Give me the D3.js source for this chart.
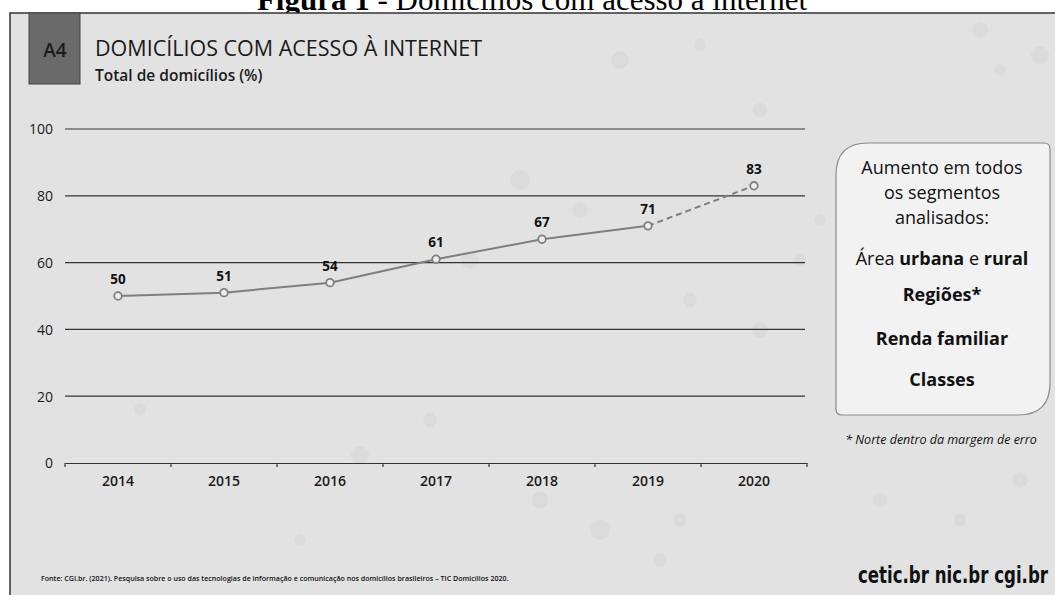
<!DOCTYPE html>
<html lang="pt">
<head>
  <meta charset="utf-8" />
  <title>Domicílios com acesso à internet</title>
  <script src="https://d3js.org/d3.v7.min.js"></script>
  <style>
    body { margin: 0; background: #fff; }
    svg { display: block; font-family: "Open Sans", "Noto Sans", sans-serif; }
  </style>
</head>
<body>
<script>
  // data
  var years = ["2014", "2015", "2016", "2017", "2018", "2019", "2020"];
  var values = [50, 51, 54, 61, 67, 71, 83];
  var yTicks = [0, 20, 40, 60, 80, 100];
  var boxLines = [
    [{t: "Aumento em todos", b: false}],
    [{t: "os segmentos", b: false}],
    [{t: "analisados:", b: false}],
    [{t: "Área ", b: false}, {t: "urbana", b: true}, {t: " e ", b: false}, {t: "rural", b: true}],
    [{t: "Regiões*", b: true}],
    [{t: "Renda familiar", b: true}],
    [{t: "Classes", b: true}]
  ];

  var width = 1055, height = 595;
  var svg = d3.select("body").append("svg")
    .attr("width", width)
    .attr("height", height);

  // figure caption, cut at the top like in the scan
  svg.append("text")
    .attr("x", 532).attr("y", 10)
    .attr("text-anchor", "middle")
    .style("font-family", "'Liberation Serif', serif")
    .style("font-size", "31px")
    .html("<tspan font-weight='bold'>Figura 1</tspan> - Domicílios com acesso à internet");

  // slide
  svg.append("rect")
    .attr("x", 10).attr("y", 13)
    .attr("width", width - 9).attr("height", height - 12)
    .attr("fill", "#e2e2e2")
    .attr("stroke", "#333").attr("stroke-width", 1.5);

  // faint dots in the background
  var dots = [[620, 60, 9], [700, 45, 6], [760, 110, 7], [980, 30, 8], [1000, 70, 6], [1040, 55, 9],
    [520, 180, 10], [580, 210, 8], [470, 260, 9], [690, 300, 7], [760, 330, 8], [800, 260, 6],
    [430, 420, 7], [360, 455, 9], [540, 500, 8], [600, 530, 10], [680, 520, 7], [300, 540, 6],
    [140, 410, 6], [880, 500, 7], [960, 520, 6], [1020, 480, 8], [820, 220, 6], [660, 560, 7]];
  svg.append("g").selectAll("circle")
    .data(dots)
    .join("circle")
    .attr("cx", function (d) { return d[0]; })
    .attr("cy", function (d) { return d[1]; })
    .attr("r", function (d) { return d[2]; })
    .attr("fill", "#cdcdcd")
    .attr("opacity", 0.35);

  // A4 box
  svg.append("rect")
    .attr("x", 29).attr("y", 13)
    .attr("width", 51).attr("height", 71)
    .attr("fill", "#6a6a6a")
    .attr("stroke", "#444").attr("stroke-width", 1);
  svg.append("text")
    .attr("x", 55).attr("y", 57)
    .attr("text-anchor", "middle")
    .style("font-size", "19px")
    .style("font-weight", "600")
    .attr("fill", "#1a1a1a")
    .text("A4");

  svg.append("text")
    .attr("x", 95).attr("y", 56)
    .style("font-size", "21.5px")
    .attr("fill", "#1a1a1a")
    .text("DOMICÍLIOS COM ACESSO À INTERNET");
  svg.append("text")
    .attr("x", 95).attr("y", 81)
    .style("font-size", "15.5px")
    .style("font-weight", "600")
    .attr("fill", "#1a1a1a")
    .text("Total de domicílios (%)");

  // chart
  var x = d3.scaleBand().domain(years).range([65, 807]);
  var y = d3.scaleLinear().domain([0, 100]).range([463, 129]);

  var grid = svg.append("g");
  grid.selectAll("line")
    .data(yTicks.filter(function (d) { return d > 0; }))
    .join("line")
    .attr("x1", 65).attr("x2", 805)
    .attr("y1", function (d) { return y(d); })
    .attr("y2", function (d) { return y(d); })
    .attr("stroke", "#333").attr("stroke-width", 1.2);

  var yAxis = svg.append("g")
    .call(d3.axisLeft(y).tickValues(yTicks).tickSize(0).tickPadding(0));
  yAxis.select(".domain").remove();
  yAxis.selectAll("text")
    .attr("x", 53)
    .attr("dy", "0.35em")
    .style("font-size", "14px")
    .style("font-weight", "500")
    .style("font-family", "'Open Sans', sans-serif")
    .attr("fill", "#1a1a1a");

  var xAxis = svg.append("g")
    .attr("transform", "translate(0," + y(0) + ")")
    .call(d3.axisBottom(x).tickSize(0).tickPadding(13));
  xAxis.select(".domain").attr("stroke", "#333").attr("stroke-width", 1.2);
  xAxis.selectAll("text")
    .style("font-size", "14px")
    .style("font-weight", "600")
    .style("font-family", "'Open Sans', sans-serif")
    .attr("fill", "#1a1a1a");
  // tick marks at band edges
  xAxis.selectAll(".edge")
    .data(years.concat(["end"]))
    .join("line")
    .attr("class", "edge")
    .attr("x1", function (d, i) { return 65 + i * x.step(); })
    .attr("x2", function (d, i) { return 65 + i * x.step(); })
    .attr("y1", 0).attr("y2", 4)
    .attr("stroke", "#333").attr("stroke-width", 1.2);

  var pts = years.map(function (yr, i) {
    return {year: yr, value: values[i], cx: x(yr) + x.bandwidth() / 2, cy: y(values[i])};
  });

  var line = d3.line()
    .x(function (d) { return d.cx; })
    .y(function (d) { return d.cy; });

  svg.append("path")
    .datum(pts.slice(0, 6))
    .attr("d", line)
    .attr("fill", "none")
    .attr("stroke", "#7f7f7f")
    .attr("stroke-width", 2);
  svg.append("path")
    .datum(pts.slice(5))
    .attr("d", line)
    .attr("fill", "none")
    .attr("stroke", "#7f7f7f")
    .attr("stroke-width", 2)
    .attr("stroke-dasharray", "6,4");

  svg.append("g").selectAll("circle")
    .data(pts)
    .join("circle")
    .attr("cx", function (d) { return d.cx; })
    .attr("cy", function (d) { return d.cy; })
    .attr("r", 3.8)
    .attr("fill", "#ececec")
    .attr("stroke", "#7f7f7f")
    .attr("stroke-width", 1.8);

  svg.append("g").selectAll("text")
    .data(pts)
    .join("text")
    .attr("x", function (d) { return d.cx; })
    .attr("y", function (d) { return d.cy - 12; })
    .attr("text-anchor", "middle")
    .style("font-size", "13.5px")
    .style("font-weight", "bold")
    .attr("fill", "#111")
    .text(function (d) { return d.value; });

  // side box with rounded top-left and bottom-right corners
  var bx = 836, by = 143, bw = 214, bh = 272, rBig = 32, rSmall = 6;
  svg.append("path")
    .attr("d", "M" + (bx + rBig) + "," + by +
      " H" + (bx + bw - rSmall) + " Q" + (bx + bw) + "," + by + " " + (bx + bw) + "," + (by + rSmall) +
      " V" + (by + bh - rBig) + " Q" + (bx + bw) + "," + (by + bh) + " " + (bx + bw - rBig) + "," + (by + bh) +
      " H" + (bx + rSmall) + " Q" + bx + "," + (by + bh) + " " + bx + "," + (by + bh - rSmall) +
      " V" + (by + rBig) + " Q" + bx + "," + by + " " + (bx + rBig) + "," + by + " Z")
    .attr("fill", "#f2f2f2")
    .attr("stroke", "#8a8a8a")
    .attr("stroke-width", 1.2);

  var lineY = [174, 199, 224, 265, 301, 345, 386];
  var boxText = svg.append("g");
  boxLines.forEach(function (parts, i) {
    var t = boxText.append("text")
      .attr("x", 942).attr("y", lineY[i])
      .attr("text-anchor", "middle")
      .style("font-size", "18px")
      .attr("fill", "#111");
    parts.forEach(function (p) {
      t.append("tspan")
        .style("font-weight", p.b ? "bold" : "normal")
        .text(p.t);
    });
  });

  svg.append("text")
    .attr("x", 941).attr("y", 444)
    .attr("text-anchor", "middle")
    .style("font-size", "12.5px")
    .style("font-style", "italic")
    .attr("fill", "#111")
    .text("* Norte dentro da margem de erro");

  // source and logos
  svg.append("text")
    .attr("x", 41).attr("y", 581)
    .style("font-size", "7.1px")
    .style("font-weight", "600")
    .attr("fill", "#111")
    .text("Fonte: CGI.br. (2021). Pesquisa sobre o uso das tecnologias de informação e comunicação nos domicílios brasileiros – TIC Domicílios 2020.");

  svg.append("text")
    .attr("x", 1048).attr("y", 583)
    .attr("text-anchor", "end")
    .style("font-family", "'DejaVu Sans Condensed', 'DejaVu Sans', sans-serif")
    .style("font-size", "23px")
    .style("font-weight", "bold")
    .attr("fill", "#111")
    .attr("textLength", 190)
    .attr("lengthAdjust", "spacingAndGlyphs")
    .text("cetic.br  nic.br  cgi.br");
</script>
</body>
</html>
